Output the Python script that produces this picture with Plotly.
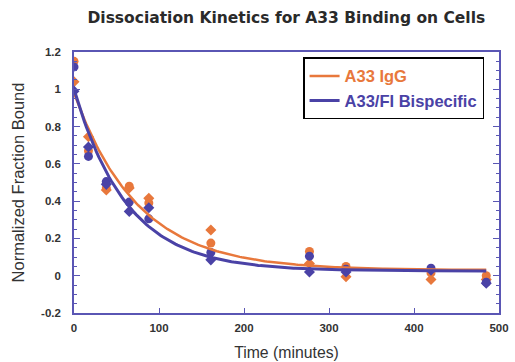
import numpy as np
import plotly.graph_objects as go

# Sampling times (minutes)
time_min = [0, 17, 38, 65, 88, 161, 277, 320, 420, 485]

# A33 IgG replicates
igg_rep1 = [1.15, 0.67, 0.47, 0.48, 0.39, 0.175, 0.13, 0.05, 0.015, 0.0]
igg_rep2 = [1.04, 0.745, 0.46, 0.47, 0.415, 0.245, 0.065, -0.005, -0.02, -0.02]

# A33/FI Bispecific replicates
bis_rep1 = [1.12, 0.64, 0.505, 0.395, 0.305, 0.125, 0.105, 0.035, 0.04, -0.035]
bis_rep2 = [0.99, 0.69, 0.49, 0.345, 0.365, 0.085, 0.02, 0.02, 0.03, -0.04]

# Single-exponential fit parameters: y = amp * exp(-k t) + plateau
igg_fit = dict(amp=0.95, k=0.0133, plateau=0.03)
bis_fit = dict(amp=0.975, k=0.016, plateau=0.025)

ORANGE = "#e8783c"
BLUE = "#4a42a6"
AXIS = "#5a56b4"
TEXT = "#333333"

t_fit = np.linspace(0, 485, 200)


def fit_curve(p):
    return p["amp"] * np.exp(-p["k"] * t_fit) + p["plateau"]


fig = go.Figure()

for ys, sym, col in [
    (igg_rep1, "circle", ORANGE),
    (igg_rep2, "diamond", ORANGE),
    (bis_rep1, "circle", BLUE),
    (bis_rep2, "diamond", BLUE),
]:
    fig.add_trace(go.Scatter(
        x=time_min, y=ys, mode="markers", showlegend=False,
        marker=dict(symbol=sym, size=9 if sym == "circle" else 8.5, color=col),
    ))

fig.add_trace(go.Scatter(
    x=t_fit, y=fit_curve(igg_fit), mode="lines",
    line=dict(color=ORANGE, width=2.5),
    name=f"<b><span style='color:{ORANGE}'>A33 IgG</span></b>",
))
fig.add_trace(go.Scatter(
    x=t_fit, y=fit_curve(bis_fit), mode="lines",
    line=dict(color=BLUE, width=3),
    name=f"<b><span style='color:{BLUE}'>A33/FI Bispecific</span></b>",
))

fig.update_layout(
    width=515, height=362,
    margin=dict(l=74, r=16, t=52, b=49),
    plot_bgcolor="white", paper_bgcolor="white",
    title=dict(
        text="<b>Dissociation Kinetics for A33 Binding on Cells</b>",
        x=0.556, xanchor="center", y=0.952, yanchor="middle",
        font=dict(family="DejaVu Sans", size=15.5, color="#2a2a2a"),
    ),
    font=dict(family="Arial, Liberation Sans", color=TEXT),
    legend=dict(
        x=0.539, y=0.98, xanchor="left", yanchor="top",
        bgcolor="white", bordercolor="black", borderwidth=1.5,
        font=dict(family="Arial, Liberation Sans", size=16.5, color=TEXT),
        tracegroupgap=0, itemwidth=30,
    ),
    xaxis=dict(
        range=[0, 500], tickvals=[0, 100, 200, 300, 400, 500],
        ticktext=["<b>0</b>", "<b>100</b>", "<b>200</b>", "<b>300</b>", "<b>400</b>", "<b>500</b>"],
        ticks="inside", ticklen=5, tickcolor=AXIS, tickwidth=1.2,
        showline=True, linecolor=AXIS, linewidth=1.5, mirror=True,
        showgrid=False, zeroline=False, ticklabelstandoff=3, automargin=False,
        tickfont=dict(size=11.5, color=TEXT),
        title=dict(text="Time (minutes)", font=dict(size=15.8, color=TEXT), standoff=14),
    ),
    yaxis=dict(
        range=[-0.2, 1.2], tickvals=[-0.2, 0, 0.2, 0.4, 0.6, 0.8, 1, 1.2],
        ticktext=["<b>-0.2</b>", "<b>0</b>", "<b>0.2</b>", "<b>0.4</b>", "<b>0.6</b>",
                  "<b>0.8</b>", "<b>1</b>", "<b>1.2</b>"],
        ticks="inside", ticklen=6, tickcolor=AXIS, tickwidth=1.2,
        minor=dict(dtick=0.05, ticks="inside", ticklen=3, tickcolor=AXIS, showgrid=False),
        showline=True, linecolor=AXIS, linewidth=1.5, mirror="ticks",
        showgrid=False, zeroline=False, ticklabelstandoff=9, automargin=False,
        tickfont=dict(size=11.5, color=TEXT),
        title=dict(text="Normalized Fraction Bound", font=dict(size=16.5, color=TEXT), standoff=12),
    ),
)

fig.write_html("out.html")
